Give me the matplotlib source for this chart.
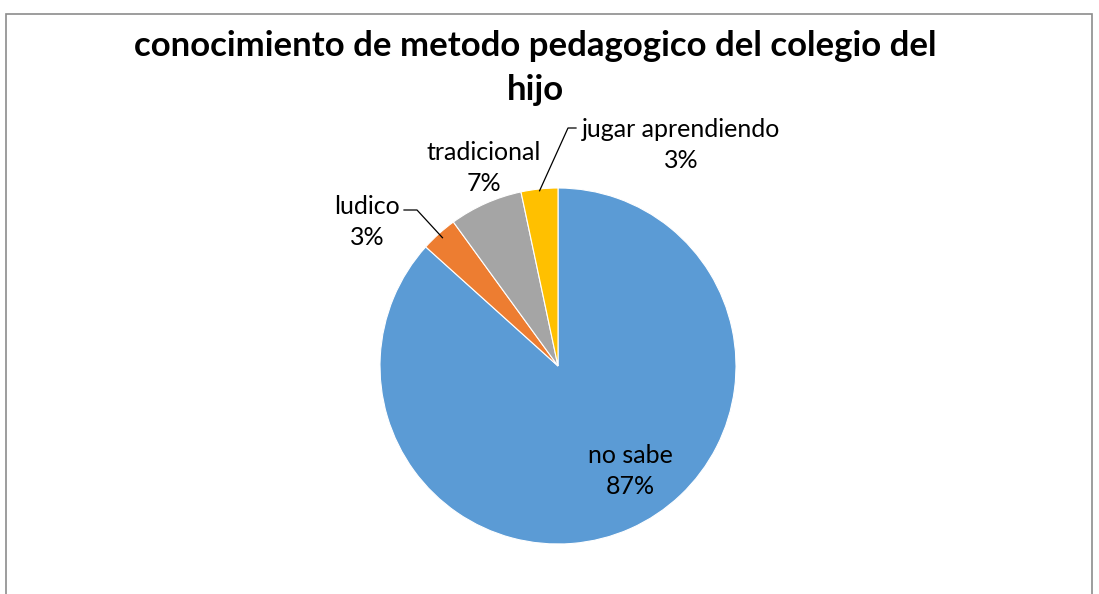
import matplotlib.pyplot as plt
import numpy as np
from matplotlib.patches import Rectangle

plt.rcParams["font.family"] = ["Lato", "DejaVu Sans"]

TITLE = "conocimiento de metodo pedagogico del colegio del\nhijo"
CATEGORIES = ["no sabe", "ludico", "tradicional", "jugar aprendiendo"]
COUNTS = [26, 1, 2, 1]
PCT_LABELS = ["87%", "3%", "7%", "3%"]
COLORS = ["#5B9BD5", "#ED7D31", "#A5A5A5", "#FFC000"]

W, H = 1099, 594
fig = plt.figure(figsize=(W / 100, H / 100), dpi=100)

# outer chart frame (bottom edge runs off the picture)
fig.patches.append(Rectangle((6 / W, -0.05), 1086 / W, (H - 14) / H + 0.05,
                             transform=fig.transFigure, fill=False,
                             edgecolor="#8c8c8c", linewidth=1.2))

cx, cy, r = 558, 366, 178
ax = fig.add_axes([(cx - r) / W, (H - cy - r) / H, 2 * r / W, 2 * r / H])
wedges, _ = ax.pie(COUNTS, colors=COLORS, startangle=90, counterclock=False,
                   radius=1.0, wedgeprops=dict(edgecolor="white", linewidth=0.8))
ax.set_xlim(-1, 1)
ax.set_ylim(-1, 1)
ax.set_aspect("auto")
ax.axis("off")


def px(x, y):
    return (x - cx) / r, (cy - y) / r


def mid_point(w, scale=1.0):
    a = np.deg2rad((w.theta1 + w.theta2) / 2)
    return scale * np.cos(a), scale * np.sin(a)


fs = 18
ls = 1.42
# no sabe (inside)
ax.text(*px(630, 471), f"{CATEGORIES[0]}\n{PCT_LABELS[0]}", ha="center", va="center",
        fontsize=fs, linespacing=ls, color="black")

# ludico
ax.text(*px(367, 222), f"{CATEGORIES[1]}\n{PCT_LABELS[1]}", ha="center", va="center",
        fontsize=fs, linespacing=ls, clip_on=False)
ex, ey = mid_point(wedges[1], 0.97)
x0, y0 = px(404, 210)
x1, _ = px(417, 210)
ax.plot([x0, x1, ex], [y0, y0, ey], color="black", lw=0.9, clip_on=False)

# tradicional
ax.text(*px(484, 168), f"{CATEGORIES[2]}\n{PCT_LABELS[2]}", ha="center", va="center",
        fontsize=fs, linespacing=ls, clip_on=False)

# jugar aprendiendo
ax.text(*px(681, 145), f"{CATEGORIES[3]}\n{PCT_LABELS[3]}", ha="center", va="center",
        fontsize=fs, linespacing=ls, clip_on=False)
ex, ey = mid_point(wedges[3], 0.99)
x0, y0 = px(576, 128)
x1, _ = px(568, 128)
ax.plot([x0, x1, ex], [y0, y0, ey], color="black", lw=0.9, clip_on=False)

fig.text(535 / W, 1 - 68 / H, TITLE, ha="center", va="center", fontsize=25,
         fontweight="bold", linespacing=1.45)

fig.savefig("out.png", dpi=100)
